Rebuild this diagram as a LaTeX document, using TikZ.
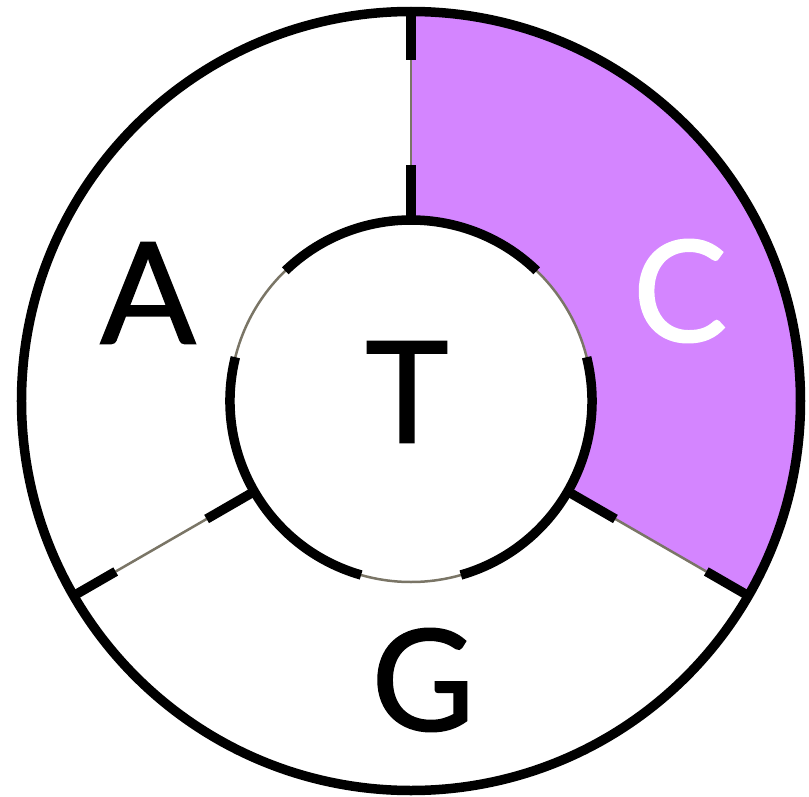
\documentclass[tikz,border=0pt]{standalone}
\usepackage{fontspec}
\setmainfont{Lato}
\newfontfamily\letterfont{Lato}[FakeBold=1.2]
\usetikzlibrary{calc}
\definecolor{sectorpurple}{RGB}{212,133,255}
\definecolor{thingray}{RGB}{122,117,102}
\begin{document}
\begin{tikzpicture}[x=1pt,y=1pt,
  thickline/.style={line width=9.5pt,black,line cap=butt},
  thinline/.style={line width=2.5pt,thingray,line cap=butt},
  letter/.style={inner sep=0pt,font=\letterfont\fontsize{141}{141}\selectfont}]
\useasboundingbox (-411,-395) rectangle (398,401);
\coordinate (O) at (0,0);
% purple sector
\fill[sectorpurple] (90:182) -- (90:390) arc[start angle=90,end angle=-30,radius=390]
  -- (-30:182) arc[start angle=-30,end angle=90,radius=182] -- cycle;
% inner circle: thin full, thick segments
\draw[thinline] (O) circle[radius=181];
\foreach \a in {90,210,330}{
  \draw[thickline] ($(O)+(\a-44:181)$) arc[start angle=\a-44,end angle=\a+44,radius=181];
}
% dividers
\foreach \a in {90,210,330}{
  \coordinate (i\a) at (\a:181);
  \coordinate (m\a) at (\a:236);
  \coordinate (n\a) at (\a:341);
  \coordinate (o\a) at (\a:390);
  \draw[thinline] (m\a) -- (n\a);
  \draw[thickline] (i\a) -- (m\a);
  \draw[thickline] (n\a) -- (o\a);
}
% outer circle
\draw[thickline] (O) circle[radius=389.5];
% letters
\node[letter] (A) at (-263,108) {A};
\node[letter] (T) at (-4,9) {T};
\node[letter,text=white] (C) at (269,110) {C};
\node[letter] (G) at (12,-279) {G};
\end{tikzpicture}
\end{document}
